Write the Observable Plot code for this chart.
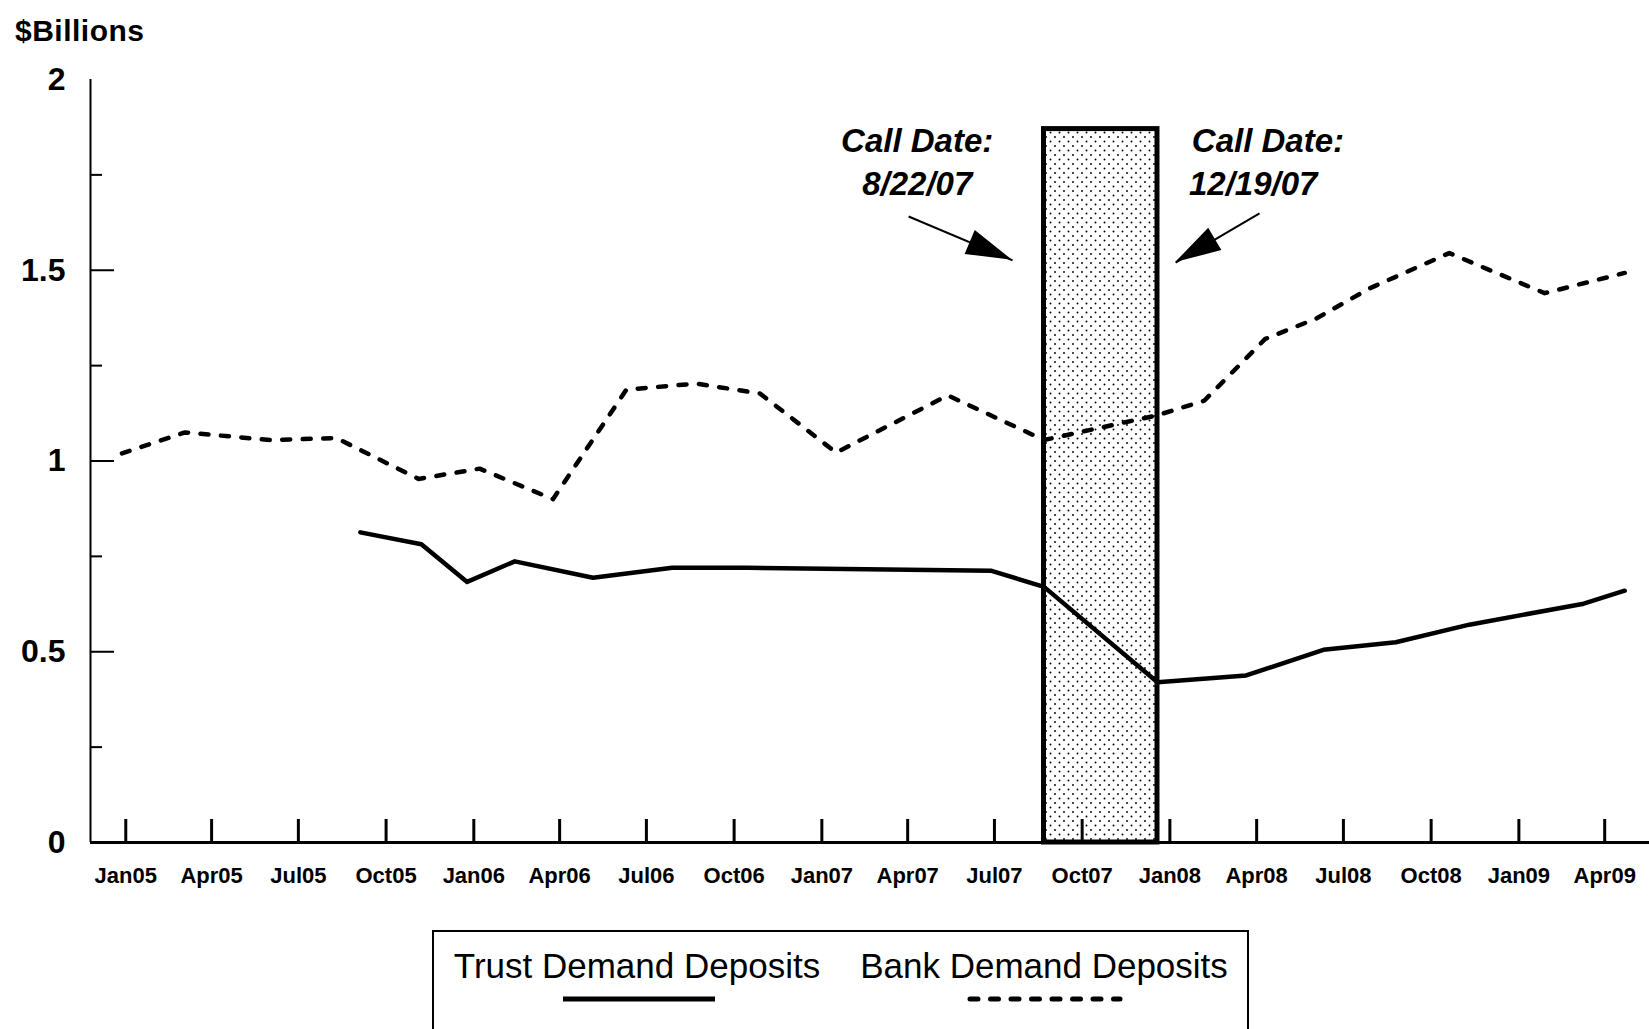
<!DOCTYPE html>
<html>
<head>
<meta charset="utf-8">
<script src="https://cdn.jsdelivr.net/npm/d3@7"></script>
<script src="https://cdn.jsdelivr.net/npm/@observablehq/plot@0.6"></script>
<style>
  html, body { margin: 0; padding: 0; background: #fff; }
  #wrap { position: relative; width: 1649px; height: 1029px; overflow: hidden; background: #fff;
          font-family: "Liberation Sans", Arial, Helvetica, sans-serif; }
  #title { position: absolute; left: 15px; top: 16px; font-size: 30px; line-height: 30px;
           font-weight: bold; letter-spacing: 0.5px; color: #000; }
  #chart { position: absolute; left: 0; top: 0; }
  #legend { position: absolute; left: 0; top: 920px; }
</style>
</head>
<body>
<div id="wrap">
  <div id="chart"></div>
  <div id="title">$Billions</div>
  <div id="legend"></div>
</div>
<script>
// ---- data ----
const bankDates = ["2004-12-28","2005-03-04","2005-06-01","2005-08-10","2005-11-04","2006-01-07","2006-03-25",
  "2006-06-10","2006-08-22","2006-10-28","2007-01-16","2007-05-13","2007-08-22","2007-12-19","2008-02-06",
  "2008-04-10","2008-06-03","2008-07-28","2008-10-20","2009-01-28","2009-04-22"];
const bankValues = [1.02,1.075,1.055,1.06,0.953,0.98,0.90,1.187,1.203,1.177,1.022,1.172,1.055,1.12,1.158,
  1.32,1.374,1.452,1.545,1.44,1.493];

const trustDates = ["2005-09-04","2005-11-07","2005-12-25","2006-02-13","2006-05-06","2006-07-28","2006-10-15",
  "2007-06-28","2007-08-22","2007-12-19","2008-03-21","2008-06-10","2008-08-25","2008-11-10","2009-03-10","2009-04-22"];
const trustValues = [0.813,0.782,0.683,0.737,0.694,0.72,0.72,0.712,0.67,0.42,0.438,0.505,0.525,0.571,0.626,0.66];

const tickDates = ["2005-01-01","2005-04-01","2005-07-01","2005-10-01","2006-01-01","2006-04-01","2006-07-01",
  "2006-10-01","2007-01-01","2007-04-01","2007-07-01","2007-10-01","2008-01-01","2008-04-01","2008-07-01",
  "2008-10-01","2009-01-01","2009-04-01"];
const tickLabels = ["Jan05","Apr05","Jul05","Oct05","Jan06","Apr06","Jul06","Oct06","Jan07","Apr07","Jul07",
  "Oct07","Jan08","Apr08","Jul08","Oct08","Jan09","Apr09"];

const yMajor = [0, 0.5, 1, 1.5, 2];
const yMinor = [0.25, 0.75, 1.25, 1.75];

const seriesNames = ["Trust Demand Deposits", "Bank Demand Deposits"];

const callDates = ["2007-08-22", "2007-12-19"];
const callBoxTop = 1.87;
const callNotesLeft = [
  {x: "2007-04-11", y: 1.809, text: "Call Date:"},
  {x: "2007-04-11", y: 1.696, text: "8/22/07"}
];
const callNotesRight = [
  {x: "2008-01-24", y: 1.809, text: "Call Date:"},
  {x: "2008-01-21", y: 1.696, text: "12/19/07"}
];
const arrowDefs = [
  {x1: "2007-04-02", y1: 1.641, x2: "2007-07-20", y2: 1.526},
  {x1: "2008-04-04", y1: 1.649, x2: "2008-01-07", y2: 1.52}
];

// ---- build ----
const parse = d3.utcParse("%Y-%m-%d");
const bank = bankDates.map((d, i) => ({date: parse(d), value: bankValues[i]}));
const trust = trustDates.map((d, i) => ({date: parse(d), value: trustValues[i]}));
const ticks = tickDates.map(parse);
const labelMap = new Map(ticks.map((d, i) => [+d, tickLabels[i]]));
const box = [{x1: parse(callDates[0]), x2: parse(callDates[1]), y1: 0, y2: callBoxTop}];
const notesL = callNotesLeft.map(n => ({...n, x: parse(n.x)}));
const notesR = callNotesRight.map(n => ({...n, x: parse(n.x)}));
const arrows = arrowDefs.map(a => ({...a, x1: parse(a.x1), x2: parse(a.x2)}));

const W = 1649, H = 920;
const mL = 90, mR = 0, mT = 79, mB = H - 842;
const plotW = W - mL - mR, plotH = H - mT - mB;
const xDomain = [parse("2004-11-25"), parse("2009-05-18")];

function arrowHeads(index, scales) {
  const g = d3.create("svg:g");
  for (const a of arrows) {
    const x1 = scales.x(a.x1), y1 = scales.y(a.y1), x2 = scales.x(a.x2), y2 = scales.y(a.y2);
    const ang = Math.atan2(y2 - y1, x2 - x1);
    const L = 46, hw = 13;
    const bx = x2 - L * Math.cos(ang), by = y2 - L * Math.sin(ang);
    const px = -Math.sin(ang) * hw, py = Math.cos(ang) * hw;
    g.append("path")
      .attr("d", `M${x2},${y2}L${bx + px},${by + py}L${bx - px},${by - py}Z`)
      .attr("fill", "black");
  }
  return g.node();
}

const noteStyle = {x: "x", y: "y", text: "text", lineAnchor: "bottom",
  fontSize: 33, fontWeight: "bold", fontStyle: "italic", fill: "black"};

const svg = Plot.plot({
  width: W, height: H,
  marginLeft: mL, marginRight: mR, marginTop: mT, marginBottom: mB,
  style: {background: "white", color: "black", fontFamily: "'Liberation Sans', Arial, Helvetica, sans-serif", overflow: "visible"},
  x: {type: "utc", domain: xDomain},
  y: {domain: [0, 2]},
  marks: [
    Plot.rect(box, {x1: "x1", x2: "x2", y1: "y1", y2: "y2", fill: "url(#dots)", stroke: "black", strokeWidth: 5}),
    Plot.ruleY([0], {strokeWidth: 3}),
    Plot.ruleX([xDomain[0]], {y1: 0, y2: 2, strokeWidth: 2}),
    Plot.ruleX(ticks, {insetTop: plotH - 23, strokeWidth: 3}),
    Plot.ruleY(yMajor.filter(v => v > 0 && v < 2), {insetRight: plotW - 24, strokeWidth: 2}),
    Plot.ruleY(yMinor, {insetRight: plotW - 12, strokeWidth: 2}),
    Plot.line(bank, {x: "date", y: "value", strokeWidth: 4.5, strokeDasharray: "8,12.5", strokeLinecap: "round", strokeLinejoin: "round"}),
    Plot.line(trust, {x: "date", y: "value", strokeWidth: 4.5, strokeLinejoin: "round", strokeLinecap: "round"}),
    Plot.link(arrows, {x1: "x1", y1: "y1", x2: "x2", y2: "y2", strokeWidth: 2}),
    arrowHeads,
    Plot.text(notesL, {...noteStyle, textAnchor: "middle"}),
    Plot.text(notesR, {...noteStyle, textAnchor: "start"}),
    Plot.axisY({ticks: yMajor, tickSize: 0, tickPadding: 25, fontSize: 32, fontWeight: "bold", tickFormat: d => String(d)}),
    Plot.axisX({ticks: ticks, tickSize: 0, tickPadding: 25, fontSize: 22, fontWeight: "bold", tickFormat: d => labelMap.get(+d)})
  ]
});

// dotted fill pattern for the call-date band
const defs = d3.create("svg:defs");
const pat = defs.append("pattern").attr("id", "dots").attr("patternUnits", "userSpaceOnUse")
  .attr("width", 9).attr("height", 9);
pat.append("rect").attr("width", 9).attr("height", 9).attr("fill", "white");
pat.append("circle").attr("cx", 2).attr("cy", 2).attr("r", 0.95).attr("fill", "black");
pat.append("circle").attr("cx", 6.5).attr("cy", 6.5).attr("r", 0.95).attr("fill", "black");
svg.insertBefore(defs.node(), svg.firstChild);

document.getElementById("chart").appendChild(svg);

// ---- legend ----
const lg = d3.select("#legend").append("svg").attr("width", W).attr("height", 109)
  .style("font-family", "'Liberation Sans', Arial, Helvetica, sans-serif");
lg.append("path").attr("d", "M433,125V11H1248V125").attr("fill", "none").attr("stroke", "black").attr("stroke-width", 2);
const lgX = [637, 1044];
const lgLine = [[563, 715], [970, 1120]];
seriesNames.forEach((name, i) => {
  lg.append("text").attr("x", lgX[i]).attr("y", 58).attr("text-anchor", "middle")
    .attr("font-size", 35).attr("fill", "black").text(name);
  lg.append("line").attr("x1", lgLine[i][0]).attr("x2", lgLine[i][1]).attr("y1", 79).attr("y2", 79)
    .attr("stroke", "black").attr("stroke-width", 5)
    .attr("stroke-linecap", i === 1 ? "round" : "butt")
    .attr("stroke-dasharray", i === 1 ? "8,12.5" : null);
});
</script>
</body>
</html>
